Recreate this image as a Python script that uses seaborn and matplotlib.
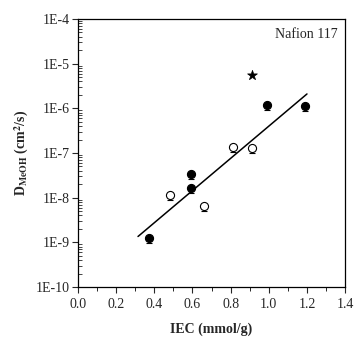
import numpy as np
import pandas as pd
import matplotlib
matplotlib.use("Agg")
import matplotlib.pyplot as plt
import seaborn as sns
from matplotlib.ticker import LogLocator, MultipleLocator, FixedLocator, NullFormatter

# data
filled_iec = [0.37, 0.59, 0.59, 0.99, 1.19]
filled_d = [1.26e-9, 3.4e-8, 1.66e-8, 1.2e-6, 1.15e-6]
open_iec = [0.48, 0.66, 0.81, 0.91]
open_d = [1.15e-8, 6.6e-9, 1.35e-7, 1.3e-7]
star_iec = [0.91]
star_d = [5.6e-6]
fit_iec = [0.315, 1.2]
fit_d = [1.35e-9, 2.1e-6]

sns.set_style("ticks")
plt.rcParams["font.family"] = ["Liberation Serif", "DejaVu Serif"]
plt.rcParams["mathtext.fontset"] = "stix"

fig = plt.figure(figsize=(3.54, 3.40), dpi=100)
ax = fig.add_axes([0.220, 0.156, 0.755, 0.788])

filled = pd.DataFrame({"iec": filled_iec, "d": filled_d})
hollow = pd.DataFrame({"iec": open_iec, "d": open_d})
star = pd.DataFrame({"iec": star_iec, "d": star_d})
fit = pd.DataFrame({"iec": fit_iec, "d": fit_d})

# small downward error bars
for df in (filled, hollow):
    lower = df["d"] - df["d"] / 1.3
    ax.errorbar(df["iec"], df["d"], yerr=[lower, np.zeros(len(df))], fmt="none",
                ecolor="black", elinewidth=0.8, capsize=2, capthick=0.8, zorder=2)

sns.lineplot(data=fit, x="iec", y="d", color="black", linewidth=1.1, ax=ax, zorder=1)
sns.scatterplot(data=filled, x="iec", y="d", color="black", edgecolor="black",
                s=34, linewidth=0.8, ax=ax, zorder=3)
sns.scatterplot(data=hollow, x="iec", y="d", color="white", edgecolor="black",
                s=34, linewidth=0.8, ax=ax, zorder=3)
sns.scatterplot(data=star, x="iec", y="d", marker="*", color="black", edgecolor="black",
                s=55, linewidth=0.5, ax=ax, zorder=3)

ax.set_yscale("log")
ax.set_xlim(0.0, 1.4)
ax.set_ylim(1e-10, 1e-4)
ax.xaxis.set_major_locator(MultipleLocator(0.2))
ax.xaxis.set_minor_locator(MultipleLocator(0.1))
ax.xaxis.set_major_formatter(matplotlib.ticker.FuncFormatter(lambda v, p: f"{v:.1f}"))
yt = [10.0 ** e for e in range(-10, -3)]
ax.yaxis.set_major_locator(FixedLocator(yt))
ax.set_yticklabels([f"1E{e}" for e in range(-10, -3)])
ax.yaxis.set_minor_locator(LogLocator(base=10, subs=np.arange(2, 10), numticks=20))
ax.yaxis.set_minor_formatter(NullFormatter())

ax.tick_params(which="both", top=False, right=False, labelsize=10)
ax.tick_params(axis="x", which="major", direction="out", length=4, width=0.8, pad=4)
ax.tick_params(axis="x", which="minor", direction="out", length=3, width=0.7)
ax.tick_params(axis="y", which="major", direction="out", length=4, width=0.8, pad=2)
ax.tick_params(axis="y", which="minor", direction="in", length=3, width=0.6)
for sp in ax.spines.values():
    sp.set_visible(True)
    sp.set_linewidth(0.9)
    sp.set_color("black")

ax.set_xlabel("IEC (mmol/g)", fontweight="bold", fontsize=10, labelpad=8)
ax.set_ylabel(r"D$_{\mathbf{MeOH}}$ (cm$^{\mathbf{2}}$/s)", fontweight="bold", fontsize=10, labelpad=3)
ax.text(0.97, 0.965, "Nafion 117", transform=ax.transAxes, ha="right", va="top", fontsize=10)

fig.savefig("out.png", dpi=100)
